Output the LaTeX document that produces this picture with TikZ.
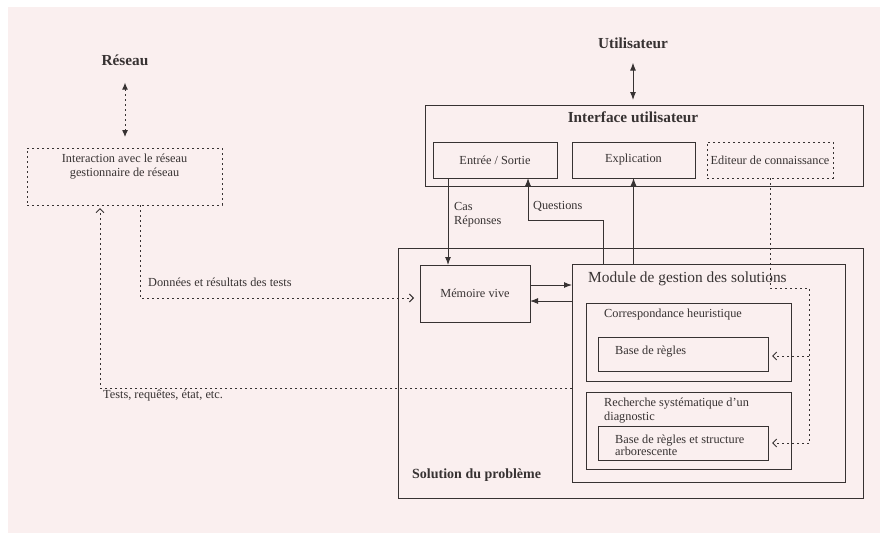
\documentclass[tikz,border=0pt]{standalone}
\usepackage{fontspec}
\setmainfont{Liberation Serif}
\usetikzlibrary{arrows.meta,calc}
\definecolor{bgpink}{RGB}{250,239,239}
\definecolor{ink}{RGB}{55,50,50}
\begin{document}
\begin{tikzpicture}[x=1pt,y=-1pt,
  every node/.style={text=ink},
  box/.style={draw=ink,line width=1pt,inner sep=0pt,outer sep=0pt},
  dbox/.style={draw=ink,line width=1pt,inner sep=0pt,outer sep=0pt,dash pattern=on 2pt off 3pt},
  small/.style={font=\fontsize{12.3}{14}\selectfont,inner sep=0pt},
  big/.style={font=\bfseries\fontsize{15.3}{18}\selectfont,inner sep=0pt},
  conn/.style={draw=ink,line width=1pt,-{Latex[length=8pt,width=6pt]}},
  dconn/.style={draw=ink,line width=1pt,dash pattern=on 2pt off 3pt},
  openhead/.style={-{Straight Barb[length=4pt,width=8pt,line width=1pt]}}
]
\useasboundingbox (0,0) rectangle (880,533);
\fill[white] (0,0) rectangle (880,533);
\fill[bgpink] (8,7) rectangle (880,533);

% Network side
\node[big] (reseau) at (125,60) {Réseau};
\node[dbox,minimum width=195pt,minimum height=57pt] (net) at (124.5,176.5) {};
\node[small,align=center] (nettext) at (124.5,167) {Interaction avec le réseau\\gestionnaire de réseau};

% User interface
\node[big] (user) at (633,43) {Utilisateur};
\node[box,minimum width=438pt,minimum height=81pt] (ui) at (644,145.5) {};
\node[big] (uititle) at (633,117) {Interface utilisateur};
\node[box,minimum width=124pt,minimum height=36pt,small] (io) at (495,160) {Entrée / Sortie};
\node[box,minimum width=123pt,minimum height=36pt,small] (expl) at (633.5,160) {Explication};
\node[dbox,minimum width=126pt,minimum height=36pt,small] (edit) at (770,160) {Editeur de connaissance};

% Problem solving
\node[box,minimum width=465pt,minimum height=250pt] (sol) at (630.5,373) {};
\node[anchor=west,font=\bfseries\fontsize{14}{16}\selectfont,inner sep=0pt] (soltitle) at (412,475) {Solution du problème};
\node[box,minimum width=110pt,minimum height=57pt,small] (mem) at (475,293.5) {Mémoire vive};
\node[box,minimum width=273pt,minimum height=218pt] (mod) at (708.5,373) {};
\node[anchor=west,font=\fontsize{15.4}{18}\selectfont,inner sep=0pt] (modtitle) at (588,279) {Module de gestion des solutions};
\node[box,minimum width=205pt,minimum height=78pt] (corr) at (688.5,342) {};
\node[small,anchor=west] (corrtitle) at (604,315) {Correspondance heuristique};
\node[box,minimum width=170pt,minimum height=34pt] (br1) at (683,354) {};
\node[small,anchor=west] (br1text) at (615,352) {Base de règles};
\node[box,minimum width=205pt,minimum height=77pt] (rech) at (688.5,430.5) {};
\node[small,anchor=west,align=left] (rechtitle) at (604,411) {Recherche systématique d’un\\diagnostic};
\node[box,minimum width=170pt,minimum height=34pt] (br2) at (683,443) {};
\node[anchor=west,align=left,inner sep=0pt,font=\fontsize{12.3}{11.5}\selectfont] (br2text) at (615,445.5) {Base de règles et structure\\arborescente};

% Labels
\node[small,anchor=west,align=left] (caslbl) at (454,214.5) {Cas\\Réponses};
\node[small,anchor=west] (qlbl) at (533,206) {Questions};
\node[small,anchor=west] (dlbl) at (148,282) {Données et résultats des tests};
\node[small,anchor=west] (tlbl) at (103,396) {Tests, requêtes, état, etc.};

% Coordinates
\coordinate (ioout) at (448,178);
\coordinate (qturn1) at (603,220);
\coordinate (qturn2) at (528,220);
\coordinate (ed1) at (770,288);
\coordinate (ed2) at (809,288);
\coordinate (ed3) at (809,356);
\coordinate (ed4) at (809,443);
\coordinate (t1) at (100,388);
\coordinate (d1) at (140,298);

% Solid connectors
\draw[draw=ink,line width=1pt,{Latex[length=8pt,width=6pt]}-{Latex[length=8pt,width=6pt]},shorten <=14pt,shorten >=5pt]
  (user.south) -- (user.south |- ui.north);
\draw[conn] (ioout) -- (ioout |- mem.north);
\draw[conn] (qturn1 |- mod.north) -- (qturn1) -- (qturn2) -- (qturn2 |- io.south);
\draw[conn] (expl.south |- mod.north) -- (expl.south);
\draw[conn] ([yshift=8.5pt]mem.east) -- ([yshift=8.5pt]mem.east -| mod.west);
\draw[conn] ([yshift=-7.5pt]mem.east -| mod.west) -- ([yshift=-7.5pt]mem.east);

% Dotted connectors
\draw[dconn,{Latex[length=7pt,width=6pt]}-{Latex[length=7pt,width=6pt]},shorten <=17pt,shorten >=11pt]
  (reseau.south) -- (reseau.south |- net.north);
\draw[dconn] (edit.south) -- (ed1) -- (ed2) -- (ed4);
\draw[dconn,openhead,shorten >=4pt] (ed3) -- (ed3 -| br1.east);
\draw[dconn,openhead,shorten >=4pt] (ed4) -- (ed4 -| br2.east);
\draw[dconn,openhead,shorten >=3pt] (t1 -| mod.west) -- (t1) -- (t1 |- net.south);
\draw[dconn,openhead,shorten >=6pt] (d1 |- net.south) -- (d1) -- (d1 -| mem.west);
\end{tikzpicture}
\end{document}
